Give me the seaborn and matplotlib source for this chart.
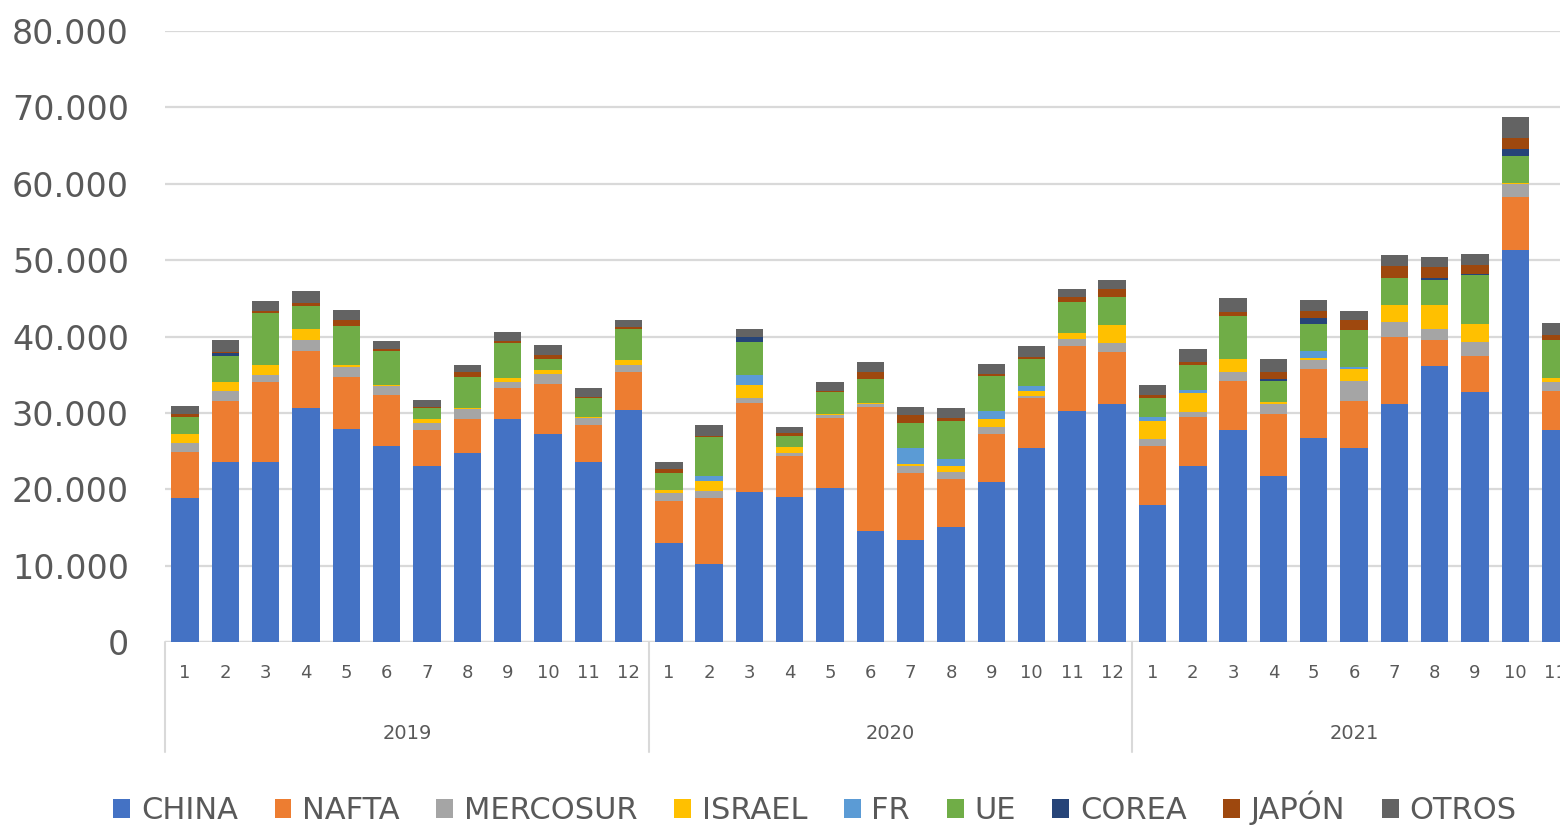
import numpy as np
import pandas as pd
import matplotlib.pyplot as plt
import seaborn as sns
from matplotlib.patches import Patch
from matplotlib.ticker import FuncFormatter
import matplotlib.transforms as mtransforms

# values in thousands (2019-01 .. 2021-11)
years = ["2019"] * 12 + ["2020"] * 12 + ["2021"] * 11
months = [str(m) for m in range(1, 13)] * 2 + [str(m) for m in range(1, 12)]

china = [18.8, 23.6, 23.6, 30.6, 27.9, 25.7, 23.1, 24.8, 29.2, 27.2, 23.6, 30.4,
         13.0, 10.2, 19.6, 19.0, 20.1, 14.5, 13.4, 15.1, 20.9, 25.4, 30.3, 31.1,
         18.0, 23.1, 27.7, 21.7, 26.7, 25.4, 31.1, 36.1, 32.7, 51.3, 27.7]
nafta = [6.1, 8.0, 10.4, 7.5, 6.8, 6.7, 4.7, 4.4, 4.0, 6.6, 4.8, 5.0,
         5.5, 8.7, 11.7, 5.4, 9.2, 16.3, 8.7, 6.3, 6.3, 6.5, 8.5, 6.9,
         7.7, 6.4, 6.5, 8.2, 9.1, 6.2, 8.8, 3.4, 4.7, 6.9, 5.1]
mercosur = [1.1, 1.3, 1.0, 1.5, 1.3, 1.1, 0.9, 1.3, 0.9, 1.3, 0.9, 0.9,
            1.0, 0.9, 0.6, 0.3, 0.4, 0.4, 0.9, 0.8, 0.9, 0.3, 0.9, 1.2,
            0.9, 0.6, 1.1, 1.3, 1.1, 2.6, 2.0, 1.5, 1.9, 1.8, 1.2]
israel = [1.2, 1.2, 1.3, 1.4, 0.3, 0.2, 0.5, 0.2, 0.5, 0.5, 0.2, 0.6,
          0.4, 1.3, 1.8, 0.8, 0.1, 0.1, 0.3, 0.8, 1.1, 0.7, 0.8, 2.3,
          2.4, 2.5, 1.8, 0.2, 0.3, 1.6, 2.2, 3.1, 2.4, 0.1, 0.6]
fr = [0.0, 0.0, 0.0, 0.0, 0.0, 0.0, 0.0, 0.0, 0.0, 0.0, 0.0, 0.0,
      0.0, 0.6, 1.3, 0.0, 0.0, 0.0, 2.1, 0.9, 1.0, 0.6, 0.0, 0.0,
      0.4, 0.4, 0.0, 0.0, 0.9, 0.2, 0.0, 0.0, 0.0, 0.0, 0.0]
ue = [2.3, 3.3, 6.8, 3.0, 5.1, 4.4, 1.4, 4.0, 4.6, 1.4, 2.4, 4.1,
      2.2, 5.1, 4.3, 1.5, 2.9, 3.1, 3.3, 5.1, 4.6, 3.5, 4.0, 3.7,
      2.5, 3.3, 5.6, 2.8, 3.6, 4.9, 3.5, 3.3, 6.3, 3.5, 5.0]
corea = [0.0, 0.4, 0.0, 0.0, 0.0, 0.0, 0.0, 0.0, 0.0, 0.0, 0.0, 0.0,
         0.0, 0.0, 0.6, 0.0, 0.0, 0.0, 0.0, 0.0, 0.0, 0.0, 0.0, 0.0,
         0.0, 0.0, 0.0, 0.2, 0.7, 0.0, 0.1, 0.2, 0.2, 0.9, 0.0]
japon = [0.3, 0.2, 0.2, 0.4, 0.8, 0.2, 0.2, 0.6, 0.2, 0.6, 0.2, 0.2,
         0.6, 0.2, 0.1, 0.3, 0.2, 1.0, 1.0, 0.3, 0.3, 0.3, 0.7, 1.0,
         0.5, 0.4, 0.5, 1.0, 0.9, 1.2, 1.5, 1.5, 1.2, 1.5, 0.6]
otros = [1.1, 1.5, 1.4, 1.5, 1.3, 1.1, 0.9, 1.0, 1.2, 1.3, 1.1, 0.9,
         0.9, 1.4, 1.0, 0.8, 1.1, 1.2, 1.1, 1.3, 1.3, 1.4, 1.0, 1.2,
         1.3, 1.6, 1.8, 1.6, 1.5, 1.3, 1.5, 1.3, 1.4, 2.8, 1.6]

series = ["CHINA", "NAFTA", "MERCOSUR", "ISRAEL", "FR", "UE", "COREA", "JAPÓN", "OTROS"]
colors = ["#4472C4", "#ED7D31", "#A5A5A5", "#FFC000", "#5B9BD5",
          "#70AD47", "#264478", "#9E480E", "#636363"]

df = pd.DataFrame(dict(zip(series, [china, nafta, mercosur, israel, fr,
                                    ue, corea, japon, otros])))
df["idx"] = np.arange(len(df))
cum = df[series].cumsum(axis=1)

sns.set_theme(style="white")
plt.rcParams["font.family"] = ["DejaVu Sans"]
txt = "#595959"
grid = "#D9D9D9"

fig = plt.figure(figsize=(15.6, 8.25), dpi=100)
ax = fig.add_axes([165 / 1560, 1 - 642 / 825, 1 - 165 / 1560, (642 - 31) / 825])

# stacked bars: draw cumulative totals from the top series down
for name, col in zip(series[::-1], colors[::-1]):
    sns.barplot(x=df["idx"], y=cum[name], color=col, width=0.68,
                saturation=1, linewidth=0, ax=ax, zorder=3)

ax.set_ylim(0, 80)
ax.set_xlim(-0.5, 34.11)
ax.set_yticks(range(0, 81, 10))
ax.yaxis.set_major_formatter(
    FuncFormatter(lambda v, p: f"{v * 1000:,.0f}".replace(",", ".")))
ax.yaxis.grid(True, color=grid, linewidth=1.6, zorder=0)
ax.set_axisbelow(True)
for s in ax.spines.values():
    s.set_visible(False)
ax.axhline(0, color=grid, linewidth=1.6, zorder=1)

ax.tick_params(axis="y", length=0, pad=26, labelsize=24, labelcolor=txt)
ax.set_xticks(df["idx"])
ax.set_xticklabels(months)
ax.tick_params(axis="x", length=0, pad=16, labelsize=13, labelcolor=txt)
ax.set_xlabel("")
ax.set_ylabel("")

# year level of the category axis
trans = mtransforms.blended_transform_factory(ax.transData, ax.transAxes)
year_list = ["2019", "2020", "2021"]
for y in year_list:
    pos = df["idx"][np.array(years) == y]
    ax.text(pos.mean(), -0.150, y, transform=trans, ha="center", va="center",
            fontsize=14, color=txt)
    ax.plot([pos.min() - 0.5, pos.min() - 0.5], [0, -0.18], transform=trans,
            color=grid, linewidth=1.5, clip_on=False)

handles = [Patch(facecolor=c, edgecolor="none") for c in colors]
fig.legend(handles, series, loc="center", bbox_to_anchor=(815 / 1560, 1 - 808 / 825),
           ncol=9, frameon=False, fontsize=22, labelcolor=txt,
           handlelength=0.55, handleheight=0.6, handletextpad=0.35,
           columnspacing=1.2, borderaxespad=0)

fig.savefig("out.png", dpi=100)
